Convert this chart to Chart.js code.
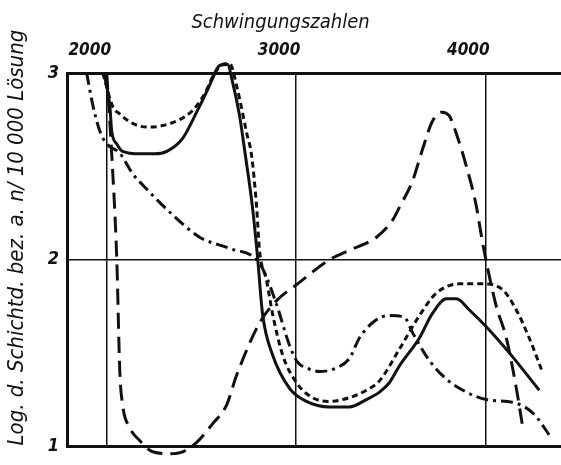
<!DOCTYPE html>
<html>
<head>
<meta charset="utf-8">
<script src="https://cdn.jsdelivr.net/npm/chart.js@4"></script>
<style>
  html, body { margin: 0; background: #fff; }
  #wrap { width: 561px; height: 465px; }
</style>
</head>
<body>
<div id="wrap"><canvas id="chart" width="561" height="465"></canvas></div>
<script>
// tick positions
const xTicks = [2000, 3000, 4000];
const yTicks = [1, 2, 3];

// solid curve
const solidX = [1984, 2016, 2026, 2053, 2084, 2174, 2253, 2317, 2401, 2475, 2528, 2559, 2596, 2638, 2665, 2702, 2728, 2770, 2797, 2823, 2876, 2966, 3055, 3177, 3282, 3372, 3441, 3493, 3546, 3652, 3720, 3794, 3847, 3916, 4005, 4127, 4285];
const solidY = [3.0, 2.83, 2.69, 2.62, 2.58, 2.567, 2.567, 2.58, 2.65, 2.79, 2.90, 2.97, 3.04, 3.045, 2.95, 2.77, 2.59, 2.28, 2.01, 1.71, 1.49, 1.31, 1.24, 1.21, 1.21, 1.25, 1.29, 1.34, 1.43, 1.58, 1.71, 1.79, 1.79, 1.73, 1.64, 1.50, 1.30];

// short-dashed curve
const dottedX = [1979, 2032, 2069, 2137, 2211, 2280, 2385, 2454, 2518, 2570, 2623, 2649, 2691, 2739, 2765, 2792, 2807, 2844, 2876, 2929, 3003, 3087, 3177, 3282, 3372, 3441, 3546, 3652, 3741, 3863, 3984, 4090, 4164, 4232, 4301];
const dottedY = [3.0, 2.82, 2.78, 2.73, 2.71, 2.715, 2.75, 2.80, 2.89, 3.0, 3.05, 3.05, 2.91, 2.68, 2.56, 2.28, 2.05, 1.89, 1.71, 1.49, 1.34, 1.26, 1.24, 1.26, 1.30, 1.35, 1.52, 1.70, 1.82, 1.87, 1.87, 1.84, 1.73, 1.58, 1.40];

// long-dashed curve
const dashedX = [2000, 2026, 2053, 2069, 2084, 2121, 2174, 2243, 2332, 2401, 2475, 2559, 2633, 2686, 2807, 2897, 3008, 3177, 3282, 3425, 3509, 3546, 3615, 3668, 3720, 3768, 3810, 3852, 3900, 3952, 3984, 4011, 4058, 4111, 4164, 4195];
const dashedY = [3.0, 2.57, 2.00, 1.40, 1.22, 1.10, 1.03, 0.97, 0.96, 0.97, 1.02, 1.12, 1.22, 1.38, 1.66, 1.78, 1.87, 2.00, 2.05, 2.12, 2.21, 2.28, 2.42, 2.59, 2.74, 2.79, 2.77, 2.66, 2.50, 2.29, 2.10, 1.96, 1.75, 1.58, 1.31, 1.12];

// dash-dot curve
const dashDotX = [1894, 1926, 1963, 2000, 2069, 2137, 2190, 2348, 2491, 2649, 2792, 2834, 2897, 2966, 3008, 3055, 3124, 3214, 3282, 3335, 3414, 3493, 3573, 3615, 3704, 3794, 3900, 4005, 4164, 4259, 4338];
const dashDotY = [3.0, 2.83, 2.69, 2.62, 2.57, 2.46, 2.40, 2.24, 2.12, 2.06, 2.0, 1.93, 1.76, 1.54, 1.45, 1.42, 1.40, 1.42, 1.47, 1.58, 1.67, 1.70, 1.69, 1.61, 1.46, 1.36, 1.29, 1.25, 1.23, 1.17, 1.06];

const INK = '#111';
Chart.defaults.font.family = "'Liberation Sans Narrow', 'DejaVu Sans Condensed', 'Liberation Sans', sans-serif";
Chart.defaults.font.style = 'italic';
Chart.defaults.color = INK;

/* one curve of the plate: black line, optional dash pattern */
function curve(xs, ys, dash) {
    return {
        data: xs.map((x, i) => ({ x, y: ys[i] })),
        borderColor: INK,
        borderWidth: 3,
        borderDash: dash,
        pointRadius: 0,
        fill: false,
        cubicInterpolationMode: 'monotone',
        clip: { left: 0, top: 14, right: 0, bottom: 14 },
    };
}

new Chart(document.getElementById('chart'), {
    type: 'line',
    data: {
        datasets: [
            curve(solidX, solidY, []),
            curve(dottedX, dottedY, [6, 4]),
            curve(dashedX, dashedY, [16, 8]),
            curve(dashDotX, dashDotY, [12, 5, 3, 5]),
        ],
    },
    options: {
        responsive: false,
        animation: false,
        layout: { padding: { bottom: 13 } },
        plugins: {
            legend: { display: false },
            tooltip: { enabled: false },
            title: {
                display: true,
                text: 'Schwingungszahlen',
                font: { size: 20, style: 'italic', weight: 'normal' },
                padding: { top: 11, bottom: 0 },
            },
        },
        scales: {
            x: {
                type: 'linear',
                position: 'top',
                min: 1790,
                max: 4400,
                afterBuildTicks: (s) => { s.ticks = xTicks.map((v) => ({ value: v })); },
                afterFit: (s) => { s.height = 38; },
                grid: { color: INK, lineWidth: 1.5, drawTicks: false },
                border: { color: INK, width: 3 },
                ticks: {
                    font: { size: 17, style: 'italic', weight: 'bold' },
                    labelOffset: -17,
                    padding: 12,
                    callback: (v) => String(v),
                },
            },
            y: {
                min: 1,
                max: 3,
                afterBuildTicks: (s) => { s.ticks = yTicks.map((v) => ({ value: v })); },
                afterFit: (s) => { s.width = 67; },
                grid: {
                    color: INK,
                    lineWidth: (c) => (c.tick && c.tick.value === 2 ? 1.5 : 3),
                    drawTicks: false,
                },
                border: { color: INK, width: 3 },
                ticks: { font: { size: 18, style: 'italic', weight: 'bold' }, padding: 8 },
                title: {
                    display: true,
                    // leading spaces nudge the rotated title up, as printed
                    text: '       Log. d. Schichtd. bez. a. n/ 10 000 Lösung',
                    font: { size: 22, style: 'italic' },
                    padding: { top: 4, bottom: 0 },
                },
            },
        },
    },
});
</script>
</body>
</html>
